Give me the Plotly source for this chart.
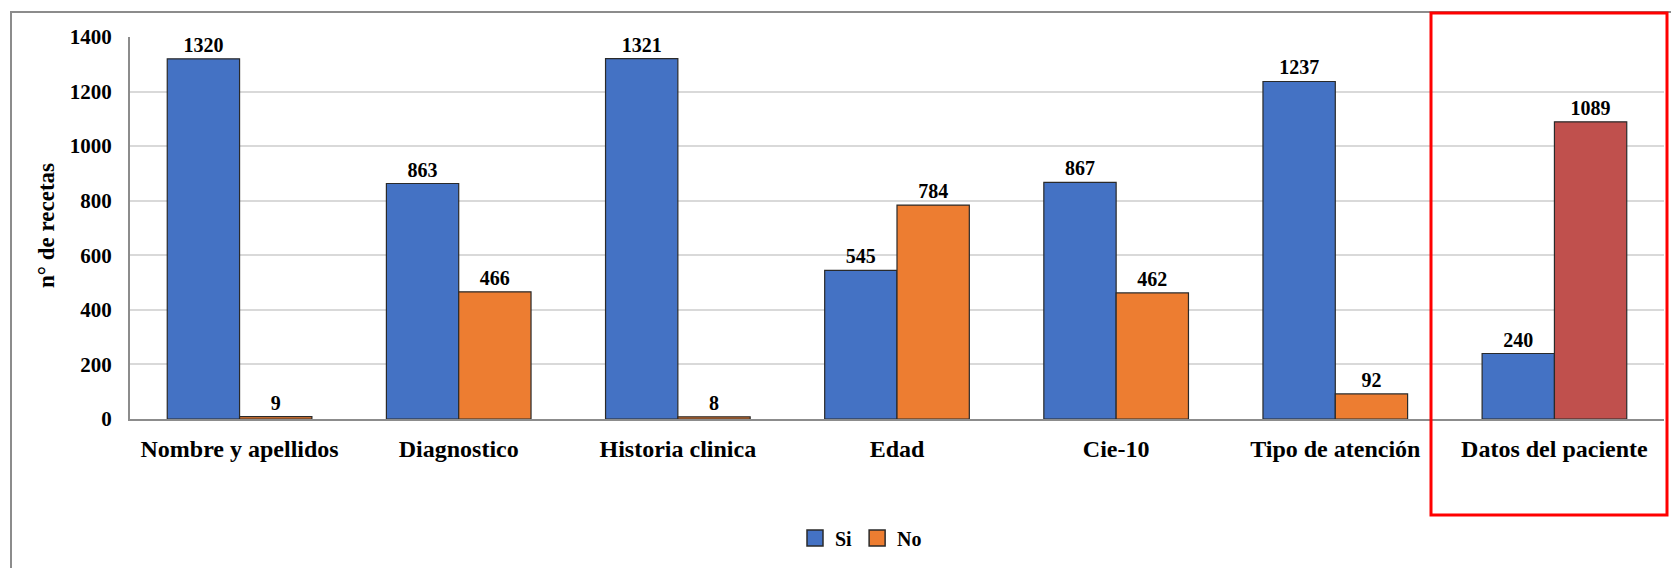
import plotly.graph_objects as go

categories = ["Nombre y apellidos", "Diagnostico", "Historia clinica", "Edad",
              "Cie-10", "Tipo de atención", "Datos del paciente"]
si_values = [1320, 863, 1321, 545, 867, 1237, 240]
no_values = [9, 466, 8, 784, 462, 92, 1089]
y_ticks = [0, 200, 400, 600, 800, 1000, 1200, 1400]
series_names = ["Si", "No"]

BLUE = "#4472C4"
ORANGE = "#ED7D31"
RED = "#C0504D"
no_colors = [ORANGE] * (len(categories) - 1) + [RED]

W, H = 1671, 568
L, R, T, B = 130, 7, 37, 149
pw, ph = W - L - R, H - T - B

def px_x(x):
    return (x - L) / pw

def px_y(y):
    return (H - B - y) / ph

font_family = "Liberation Serif"
outline = dict(color="#2a2a2a", width=1.2)

fig = go.Figure()
fig.add_trace(go.Bar(
    name=series_names[0], x=categories, y=si_values, showlegend=False,
    marker=dict(color=BLUE, line=outline),
    text=[f"<b>{v}</b>" for v in si_values], textposition="outside",
    textfont=dict(family=font_family, size=20, color="black"),
    cliponaxis=False,
))
fig.add_trace(go.Bar(
    name=series_names[1], x=categories, y=no_values, showlegend=False,
    marker=dict(color=no_colors, line=outline),
    text=[f"<b>{v}</b>" for v in no_values], textposition="outside",
    textfont=dict(family=font_family, size=20, color="black"),
    cliponaxis=False,
))
# legend entries (square swatches like the original)
for nm, col in zip(series_names, [BLUE, ORANGE]):
    fig.add_trace(go.Scatter(
        name=f"<b>{nm}</b>", x=[None], y=[None], mode="markers",
        marker=dict(symbol="square", size=18, color=col, line=dict(color="#2a2a2a", width=1.5)),
        showlegend=True,
    ))

fig.update_layout(
    width=W, height=H,
    margin=dict(l=L, r=R, t=T, b=B, pad=0),
    paper_bgcolor="white", plot_bgcolor="white",
    barmode="group", bargap=0.34, bargroupgap=0,
    font=dict(family=font_family, color="black"),
    showlegend=True,
    legend=dict(orientation="h", x=px_x(861), y=px_y(538), xanchor="center", yanchor="middle",
                font=dict(family=font_family, size=20, color="black"),
                itemwidth=30, traceorder="normal", tracegroupgap=0),
    xaxis=dict(
        tickfont=dict(family=font_family, size=24, color="black"),
        tickprefix="<b>", ticksuffix="</b>",
        showline=True, linecolor="#8c8c8c", linewidth=2,
        ticks="", ticklabelstandoff=7,
    ),
    yaxis=dict(
        range=[0, 1400], tickvals=y_ticks,
        ticktext=[f"<b>{v}</b>" for v in y_ticks],
        tickfont=dict(family=font_family, size=21, color="black"),
        showgrid=True, gridcolor="#d9d9d9", gridwidth=2,
        showline=True, linecolor="#8c8c8c", linewidth=2,
        ticks="", ticklabelstandoff=12, zeroline=False,
    ),
    annotations=[dict(
        text="<b>n° de recetas</b>", textangle=-90,
        xref="paper", yref="paper", x=px_x(46), y=px_y(226),
        xanchor="center", yanchor="middle", showarrow=False,
        font=dict(family=font_family, size=23, color="black"),
    )],
    shapes=[
        dict(type="rect", xref="paper", yref="paper",
             x0=px_x(11), x1=px_x(1690), y0=px_y(590), y1=px_y(12),
             line=dict(color="#8c8c8c", width=2), layer="below"),
        dict(type="rect", xref="paper", yref="paper",
             x0=px_x(1431), x1=px_x(1667), y0=px_y(515), y1=px_y(13),
             line=dict(color="red", width=3)),
    ],
)

fig.write_html("out.html")
